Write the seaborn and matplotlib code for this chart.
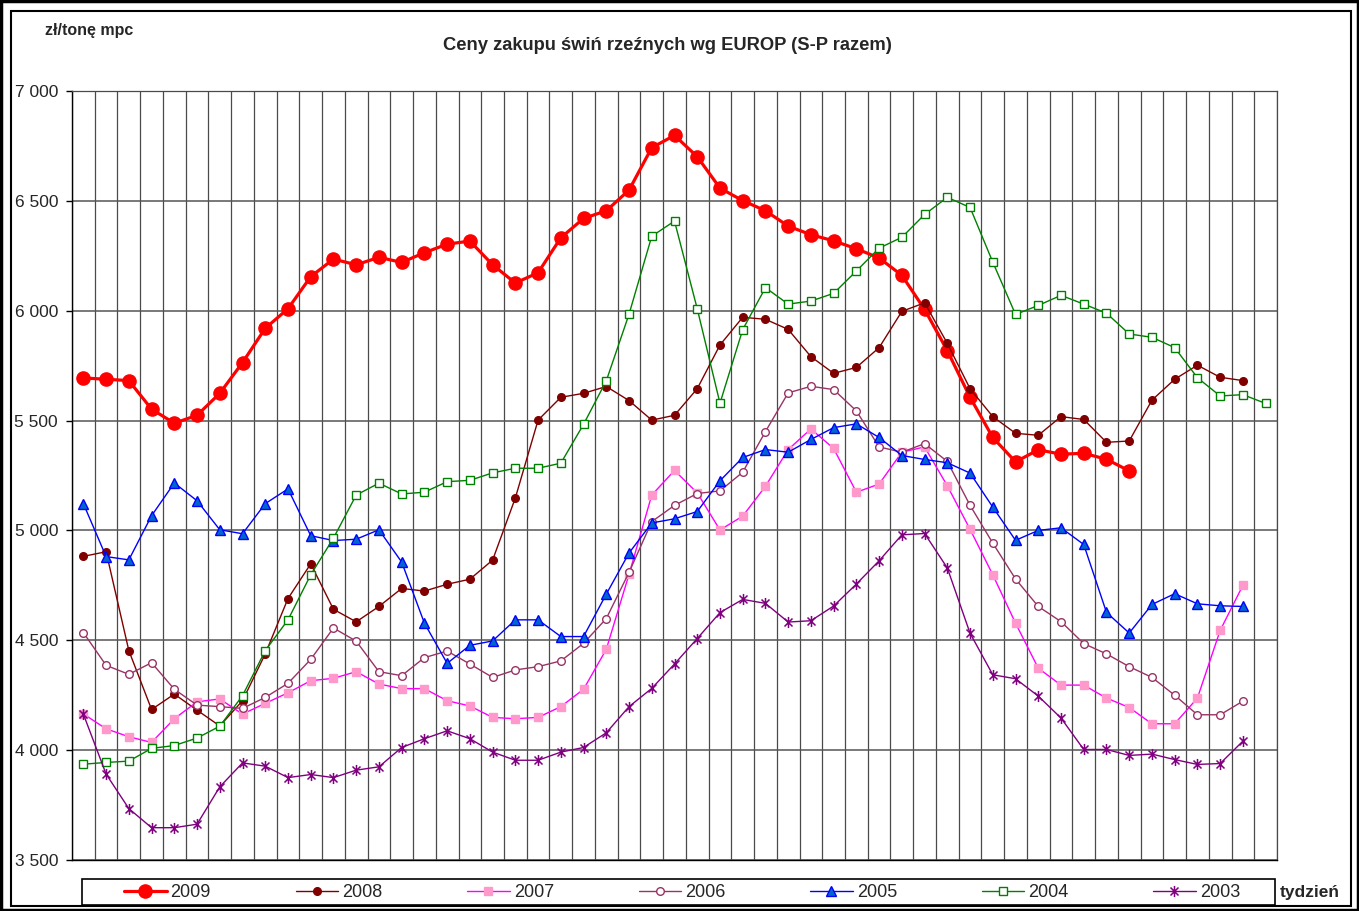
import matplotlib
matplotlib.use("Agg")
import matplotlib.pyplot as plt
import seaborn as sns
import numpy as np
from matplotlib.patches import Rectangle
from matplotlib.path import Path
from matplotlib.ticker import FuncFormatter

# ---------------- data ----------------
weeks = list(range(1, 54))

v2009 = [5694, 5688, 5682, 5552, 5488, 5524, 5624, 5764, 5920, 6009,
         6155, 6235, 6209, 6243, 6220, 6264, 6303, 6317, 6209, 6126,
         6173, 6332, 6420, 6455, 6549, 6742, 6798, 6701, 6558, 6501,
         6455, 6385, 6346, 6318, 6282, 6240, 6161, 6006, 5818, 5606,
         5423, 5312, 5367, 5347, 5351, 5324, 5271]

v2008 = [4882, 4903, 4453, 4185, 4255, 4182, 4110, 4225, 4438, 4690,
         4848, 4641, 4584, 4654, 4736, 4724, 4755, 4778, 4865, 5148,
         5502, 5606, 5624, 5655, 5591, 5502, 5524, 5645, 5844, 5970,
         5961, 5915, 5791, 5715, 5742, 5832, 5997, 6036, 5851, 5645,
         5518, 5442, 5433, 5518, 5505, 5401, 5407, 5593, 5688, 5752,
         5697, 5682]

v2007 = [4165, 4097, 4061, 4035, 4143, 4220, 4233, 4164, 4213, 4261,
         4316, 4327, 4357, 4301, 4280, 4280, 4225, 4201, 4149, 4143,
         4149, 4198, 4277, 4459, 4800, 5161, 5273, 5171, 5002, 5065,
         5201, 5368, 5462, 5373, 5174, 5211, 5356, 5380, 5203, 5005,
         4798, 4578, 4373, 4296, 4296, 4237, 4194, 4120, 4120, 4237,
         4545, 4750]

v2006 = [4535, 4386, 4345, 4398, 4277, 4205, 4198, 4190, 4240, 4304,
         4413, 4556, 4496, 4357, 4339, 4421, 4451, 4392, 4331, 4365,
         4380, 4406, 4486, 4599, 4809, 5040, 5114, 5168, 5180, 5265,
         5450, 5626, 5656, 5641, 5544, 5380, 5356, 5395, 5314, 5114,
         4942, 4779, 4654, 4585, 4485, 4438, 4380, 4331, 4250, 4161,
         4161, 4223]

v2005 = [5122, 4881, 4866, 5067, 5216, 5135, 5003, 4985, 5122, 5189,
         4976, 4954, 4960, 5003, 4856, 4578, 4395, 4477, 4497, 4593,
         4593, 4517, 4517, 4710, 4897, 5034, 5053, 5086, 5226, 5332,
         5368, 5356, 5414, 5468, 5485, 5423, 5341, 5323, 5308, 5261,
         5106, 4955, 5000, 5012, 4936, 4627, 4533, 4663, 4712, 4666,
         4657, 4654]

v2004 = [3936, 3944, 3950, 4008, 4021, 4055, 4109, 4248, 4453, 4593,
         4798, 4965, 5161, 5215, 5166, 5174, 5222, 5228, 5262, 5283,
         5283, 5306, 5483, 5681, 5984, 6339, 6408, 6009, 5579, 5914,
         6105, 6030, 6044, 6079, 6181, 6285, 6334, 6438, 6516, 6470,
         6221, 5983, 6024, 6070, 6030, 5989, 5894, 5879, 5832, 5695,
         5612, 5618, 5578]

v2003 = [4164, 3891, 3734, 3647, 3647, 3663, 3833, 3942, 3927, 3875,
         3889, 3875, 3909, 3924, 4012, 4052, 4088, 4052, 3991, 3954,
         3954, 3991, 4012, 4079, 4198, 4281, 4392, 4508, 4626, 4686,
         4668, 4583, 4589, 4656, 4756, 4862, 4980, 4986, 4829, 4532,
         4343, 4325, 4246, 4146, 4003, 4003, 3976, 3982, 3957, 3935,
         3939, 4041]

series_names = ["2009", "2008", "2007", "2006", "2005", "2004", "2003"]
series_values = [v2009, v2008, v2007, v2006, v2005, v2004, v2003]

y_ticks = [3500, 4000, 4500, 5000, 5500, 6000, 6500, 7000]

title = "Ceny zakupu świń rzeźnych wg EUROP (S-P razem)"
y_unit = "zł/tonę mpc"
x_unit = "tydzień"

# ---------------- style ----------------
sns.set_style("white")
plt.rcParams["font.family"] = ["Liberation Sans", "DejaVu Sans"]

star = Path([(0, -1), (0, 1), (-0.72, -0.72), (0.72, 0.72), (-0.72, 0.72), (0.72, -0.72)],
            [Path.MOVETO, Path.LINETO, Path.MOVETO, Path.LINETO, Path.MOVETO, Path.LINETO])

styles = {
    "2009": dict(color="#FF0000", linewidth=2.3, marker="o", markersize=9.5,
                 markerfacecolor="#FF0000", markeredgecolor="#FF0000", markeredgewidth=1),
    "2008": dict(color="#800000", linewidth=1.0, marker="o", markersize=5.5,
                 markerfacecolor="#800000", markeredgecolor="#800000", markeredgewidth=1),
    "2007": dict(color="#FF00FF", linewidth=1.0, marker="s", markersize=6,
                 markerfacecolor="#FF99CC", markeredgecolor="#FF99CC", markeredgewidth=1),
    "2006": dict(color="#993366", linewidth=1.0, marker="o", markersize=5.5,
                 markerfacecolor="white", markeredgecolor="#993366", markeredgewidth=1),
    "2005": dict(color="#0000FF", linewidth=1.0, marker="^", markersize=7,
                 markerfacecolor="#0066CC", markeredgecolor="#0000FF", markeredgewidth=1),
    "2004": dict(color="#008000", linewidth=1.0, marker="s", markersize=5.5,
                 markerfacecolor="white", markeredgecolor="#008000", markeredgewidth=1),
    "2003": dict(color="#800080", linewidth=1.0, marker=star, markersize=8,
                 markerfacecolor="none", markeredgecolor="#800080", markeredgewidth=1.1),
}

W, H = 1359, 911
fig = plt.figure(figsize=(W / 100, H / 100), dpi=100)
ax = fig.add_axes([72 / W, 1 - 860 / H, (1277 - 72) / W, (860 - 91) / H])

for name, vals in zip(series_names, series_values):
    sns.lineplot(x=weeks[:len(vals)], y=vals, ax=ax, label=name, legend=False,
                 **styles[name])

if ax.get_legend() is not None:
    ax.get_legend().remove()

ax.set_xlim(0.5, 53.5)
ax.set_ylim(3500, 7000)
ax.set_xticks(np.arange(0.5, 54, 1))
ax.set_yticks(y_ticks)
ax.yaxis.set_major_formatter(FuncFormatter(lambda v, p: f"{int(v):,}".replace(",", " ")))
ax.tick_params(axis="x", length=0, labelbottom=False)
ax.tick_params(axis="y", length=4, width=1, color="black", direction="out",
               labelsize=12.5, pad=6, left=True)
ax.grid(axis="x", color="#4a4a4a", linewidth=0.9)
ax.grid(axis="y", color="#555555", linewidth=1.1)
ax.set_axisbelow(True)
ax.set_xlabel("")
ax.set_ylabel("")
for s in ["top", "right"]:
    ax.spines[s].set_color("#4a4a4a")
    ax.spines[s].set_linewidth(0.9)
for s in ["left", "bottom"]:
    ax.spines[s].set_color("black")
    ax.spines[s].set_linewidth(1.0)

# texts
fig.text(45 / W, 1 - 31 / H, y_unit, fontsize=11.5, fontweight="bold", ha="left", va="center")
fig.text(667 / W, 1 - 46 / H, title, fontsize=13.2, fontweight="bold", ha="center", va="center")
fig.text(1280 / W, 1 - 892 / H, x_unit, fontsize=12.5, fontweight="bold", ha="left", va="center")

# legend
handles, labels = ax.get_legend_handles_labels()
fig.legend(handles, labels, loc="center", bbox_to_anchor=(682 / W, 1 - 892.5 / H),
           ncol=7, frameon=False, fontsize=13, handlelength=2.35, handletextpad=0.22,
           columnspacing=4.7, borderaxespad=0, borderpad=0, numpoints=1)
fig.patches.append(Rectangle((82 / W, 1 - 905 / H), (1275 - 82) / W, 26 / H,
                             transform=fig.transFigure, fill=False, edgecolor="black",
                             linewidth=1.2))

# frames
fig.patches.append(Rectangle((0.001, 0.001), 0.998, 0.998, transform=fig.transFigure,
                             fill=False, edgecolor="black", linewidth=2.5))
fig.patches.append(Rectangle((11 / W, 1 - 906 / H), (1351 - 11) / W, (906 - 11) / H,
                             transform=fig.transFigure, fill=False, edgecolor="black",
                             linewidth=1.5))

fig.savefig("out.png", dpi=100)
